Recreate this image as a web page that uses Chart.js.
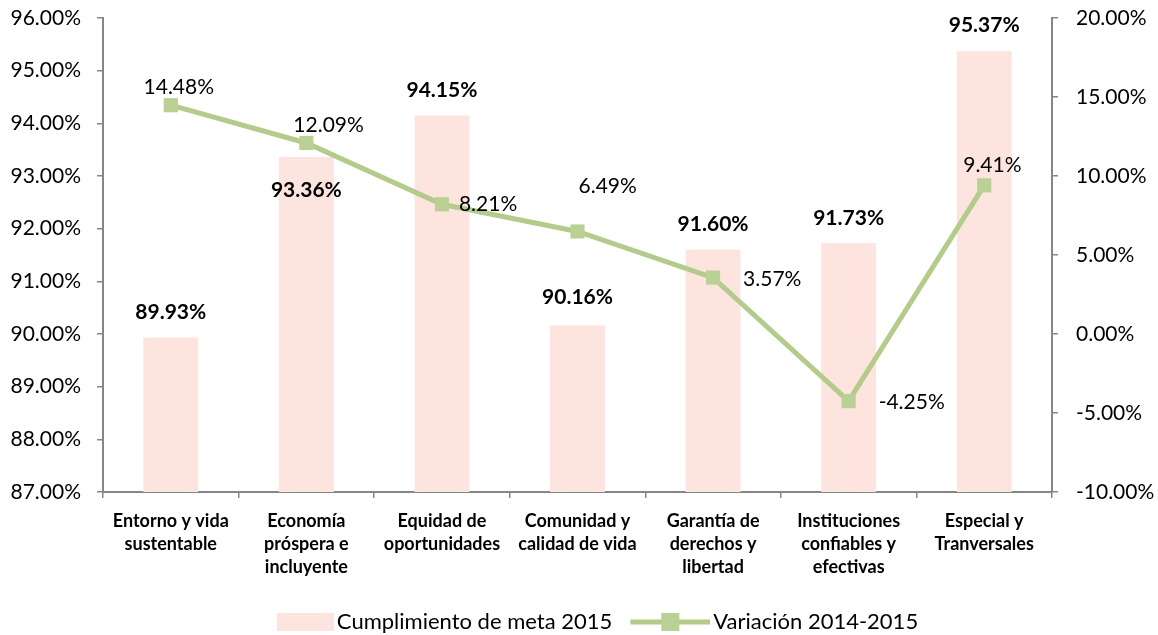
<!DOCTYPE html>
<html>
<head>
<meta charset="utf-8">
<script src="https://cdn.jsdelivr.net/npm/chart.js@4/dist/chart.umd.min.js"></script>
<style>
  html, body { margin: 0; padding: 0; background: #fff; }
  #wrap { width: 1158px; height: 635px; }
</style>
</head>
<body>
<div id="wrap"><canvas id="myChart" width="1158" height="635"></canvas></div>
<script>
// datos
const categorias = [
  ['Entorno y vida', 'sustentable'],
  ['Economía', 'próspera e', 'incluyente'],
  ['Equidad de', 'oportunidades'],
  ['Comunidad y', 'calidad de vida'],
  ['Garantía de', 'derechos y', 'libertad'],
  ['Instituciones', 'confiables y', 'efectivas'],
  ['Especial y', 'Tranversales']
];
const cumplimiento2015 = [89.93, 93.36, 94.15, 90.16, 91.60, 91.73, 95.37];
const variacion = [14.48, 12.09, 8.21, 6.49, 3.57, -4.25, 9.41];

// ubicacion de las etiquetas (desplazamiento en px desde la marca)
const despBarra = [-25, 33, -25, -28, -25, -25, -26];
const despLinea = [[8, -18, 'center'], [-13, -18, 'left'], [17, 0, 'left'], [1, -45, 'left'],
                   [30, 2, 'left'], [30, 1, 'left'], [-21, -20, 'left']];

const FONT = 'Lato, "Open Sans", sans-serif';
const colorBarra = '#FDE4DE';
const colorLinea = '#B3CB8B';
const colorMarca = '#BBD095';
const colorEje = '#868686';

// iconos de leyenda (el contenido va a la derecha para pegarlo al texto)
function iconoLinea() {
  const c = document.createElement('canvas');
  c.width = 102; c.height = 20;
  const g = c.getContext('2d');
  g.strokeStyle = colorLinea; g.lineWidth = 5;
  g.beginPath(); g.moveTo(22, 10); g.lineTo(102, 10); g.stroke();
  g.fillStyle = colorMarca; g.fillRect(53, 1, 18, 18);
  return c;
}
function iconoBarra() {
  const c = document.createElement('canvas');
  c.width = 102; c.height = 18;
  const g = c.getContext('2d');
  g.fillStyle = colorBarra; g.fillRect(45, 0, 57, 18);
  return c;
}

const etiquetas = {
  id: 'etiquetas',
  afterDatasetsDraw(chart) {
    const ctx = chart.ctx;
    ctx.save();
    ctx.fillStyle = '#000';
    ctx.textBaseline = 'middle';
    // barras
    const mb = chart.getDatasetMeta(0);
    ctx.font = 'bold 21px ' + FONT;
    ctx.textAlign = 'center';
    mb.data.forEach((el, i) => {
      ctx.fillText(cumplimiento2015[i].toFixed(2) + '%', el.x, el.y + despBarra[i]);
    });
    // linea
    const ml = chart.getDatasetMeta(1);
    ctx.font = '21px ' + FONT;
    ml.data.forEach((el, i) => {
      const d = despLinea[i];
      ctx.textAlign = d[2];
      ctx.fillText(variacion[i].toFixed(2) + '%', el.x + d[0], el.y + d[1]);
    });
    ctx.restore();
  }
};

// ancho fijo de los ejes verticales, sin relleno extra arriba/abajo
function ejeFijo(ancho) {
  return s => { s.width = ancho; s.paddingTop = 0; s.paddingBottom = 0; };
}

const ctx = document.getElementById('myChart').getContext('2d');
const myChart = new Chart(ctx, {
  type: 'bar',
  data: {
    labels: categorias,
    datasets: [
      {
        type: 'bar',
        label: 'Cumplimiento de meta 2015',
        data: cumplimiento2015,
        backgroundColor: colorBarra,
        yAxisID: 'y',
        categoryPercentage: 1.0,
        barPercentage: 0.405,
        order: 2
      },
      {
        type: 'line',
        label: 'Variación 2014-2015',
        data: variacion,
        borderColor: colorLinea,
        borderWidth: 5,
        backgroundColor: colorMarca,
        pointStyle: 'rect',
        pointRadius: 10,
        pointBorderWidth: 0,
        pointBackgroundColor: colorMarca,
        yAxisID: 'y1',
        tension: 0,
        order: 1
      }
    ]
  },
  options: {
    responsive: false,
    animation: false,
    maintainAspectRatio: false,
    layout: { padding: { top: 18, left: 0, right: 0, bottom: -8 } },
    plugins: {
      tooltip: { enabled: false },
      legend: {
        position: 'bottom',
        labels: {
          usePointStyle: true,
          pointStyleWidth: 86,
          color: '#000',
          font: { family: FONT, size: 22, lineHeight: 1 },
          padding: 4,
          generateLabels() {
            return [
              { text: 'Cumplimiento de meta 2015', pointStyle: iconoBarra(), fillStyle: colorBarra, strokeStyle: colorBarra, lineWidth: 0, datasetIndex: 0 },
              { text: 'Variación 2014-2015', pointStyle: iconoLinea(), fillStyle: colorMarca, strokeStyle: colorLinea, lineWidth: 0, datasetIndex: 1 }
            ];
          }
        }
      }
    },
    scales: {
      x: {
        afterFit: s => { s.height = 115; },
        grid: { display: true, drawOnChartArea: false, offset: true, tickLength: 6, color: colorEje, lineWidth: 1.5 },
        border: { color: colorEje, width: 2 },
        ticks: { color: '#000', font: { family: FONT, size: 18, weight: 'bold', lineHeight: 1.3 }, padding: 11, maxRotation: 0, autoSkip: false }
      },
      y: {
        position: 'left',
        min: 87, max: 96,
        afterFit: ejeFijo(103),
        grid: { drawOnChartArea: false, tickLength: 6, color: colorEje, lineWidth: 1.5 },
        border: { color: colorEje, width: 2 },
        ticks: { stepSize: 1, color: '#000', font: { family: FONT, size: 21 }, padding: 16,
          callback: v => v.toFixed(2) + '%' }
      },
      y1: {
        position: 'right',
        min: -10, max: 20,
        afterFit: ejeFijo(106),
        grid: { drawOnChartArea: false, tickLength: 6, color: colorEje, lineWidth: 1.5 },
        border: { color: colorEje, width: 2 },
        ticks: { stepSize: 5, color: '#000', font: { family: FONT, size: 21 }, padding: 18,
          callback: v => v.toFixed(2) + '%' }
      }
    }
  },
  plugins: [etiquetas]
});
</script>
</body>
</html>
